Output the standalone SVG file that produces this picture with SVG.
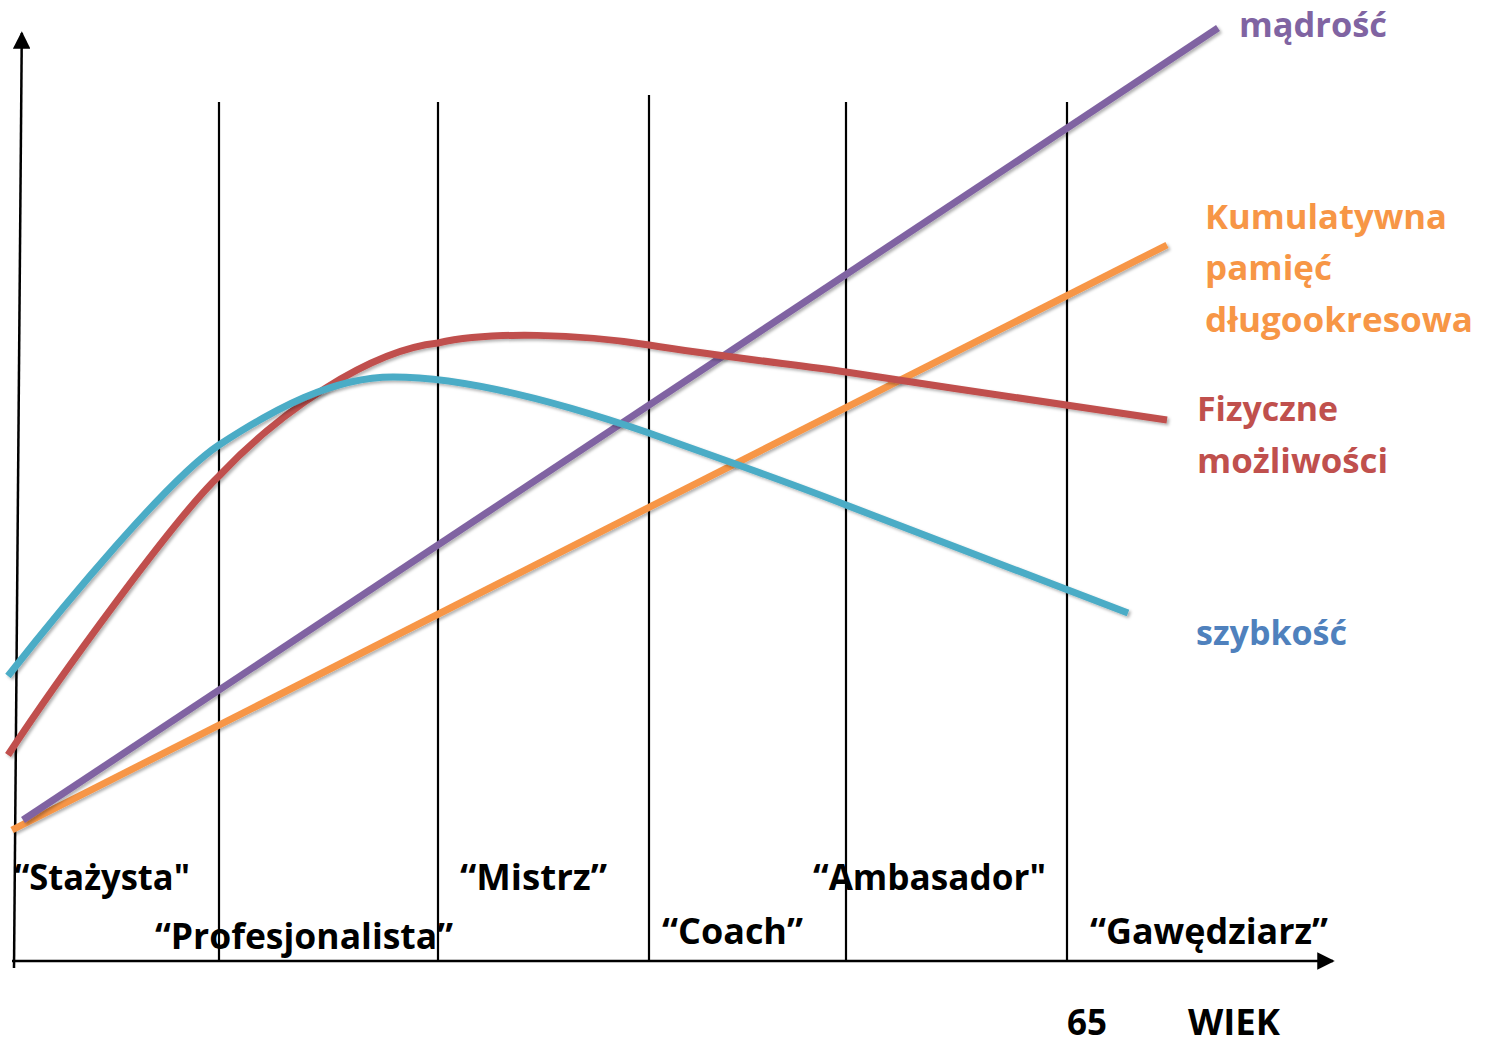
<svg xmlns="http://www.w3.org/2000/svg" width="1490" height="1045" viewBox="0 0 1490 1045">
<style>
.ax{stroke:#000;stroke-width:2.5;fill:none}
.vl{stroke:#000;stroke-width:2.2;fill:none}
.crv{fill:none;stroke-width:7;stroke-linecap:butt;filter:url(#sh)}
.lbl{font-family:"Open Sans","Noto Sans","DejaVu Sans",sans-serif;font-weight:bold;font-size:36px;fill:#000}
.cl{font-family:"Open Sans","Noto Sans","DejaVu Sans",sans-serif;font-weight:bold;font-size:34px}
</style>
<defs>
<filter id="sh" x="-5%" y="-5%" width="110%" height="110%">
<feDropShadow dx="2" dy="2" stdDeviation="1.5" flood-color="#000" flood-opacity="0.3"/>
</filter>
<marker id="ah" viewBox="0 0 10 10" refX="9" refY="5" markerWidth="7" markerHeight="7" markerUnits="strokeWidth" orient="auto">
<path d="M0,0 L10,5 L0,10 Z" fill="#000"/>
</marker>
</defs>
<rect width="1490" height="1045" fill="#fff"/>
<g id="axes">
<line class="ax" x1="14" y1="968" x2="21.8" y2="33" marker-end="url(#ah)"/>
<line class="ax" x1="12" y1="961" x2="1333" y2="961" marker-end="url(#ah)"/>
</g>
<g id="dividers">
<line class="vl" x1="219" y1="102" x2="219" y2="961"/>
<line class="vl" x1="438" y1="102" x2="438" y2="961"/>
<line class="vl" x1="649" y1="95" x2="649" y2="961"/>
<line class="vl" x1="846" y1="102" x2="846" y2="961"/>
<line class="vl" x1="1067" y1="102" x2="1067" y2="961"/>
</g>
<g id="connectors">
<path id="orange" class="crv" stroke="#F79646" d="M12,830 L1167,245"/>
<path id="purple" class="crv" stroke="#8064A2" d="M23,820 L1218,28"/>
<path id="red" class="crv" stroke="#C0504D" d="M8,755 C58,679 174,519 219,476 C279,412 370,350 438,343 C490,331 580,334 649,345 C715,355.5 780,363 846,372 C953,388 1060,405 1167,420"/>
<path id="cyan" class="crv" stroke="#4BACC6" d="M8,676 C63,606 169,478 219,445 C274,409 333,377 393,377 C473,377 579,409 649,433 C715,457 780,479 846,505 C940,541 1034,577 1128,613"/>
</g>
<g id="label-madrosc"><text class="cl" fill="#8064A2" x="1239" y="37" textLength="148" lengthAdjust="spacingAndGlyphs">mądrość</text></g>
<g id="label-pamiec">
<text class="cl" fill="#F79646" x="1205" y="229" textLength="242" lengthAdjust="spacingAndGlyphs">Kumulatywna</text>
<text class="cl" fill="#F79646" x="1205" y="280" textLength="127" lengthAdjust="spacingAndGlyphs">pamięć</text>
<text class="cl" fill="#F79646" x="1205" y="332" textLength="268" lengthAdjust="spacingAndGlyphs">długookresowa</text>
</g>
<g id="label-fizyczne">
<text class="cl" fill="#C0504D" x="1197" y="421" textLength="141" lengthAdjust="spacingAndGlyphs">Fizyczne</text>
<text class="cl" fill="#C0504D" x="1197" y="473" textLength="191" lengthAdjust="spacingAndGlyphs">możliwości</text>
</g>
<g id="label-szybkosc"><text class="cl" fill="#4F81BD" x="1196" y="645" textLength="151" lengthAdjust="spacingAndGlyphs">szybkość</text></g>
<g id="stage-stazysta"><text class="lbl" x="14" y="890" textLength="176" lengthAdjust="spacingAndGlyphs">“Stażysta"</text></g>
<g id="stage-profesjonalista"><text class="lbl" x="155" y="949" textLength="298" lengthAdjust="spacingAndGlyphs">“Profesjonalista”</text></g>
<g id="stage-mistrz"><text class="lbl" x="460" y="890" textLength="147" lengthAdjust="spacingAndGlyphs">“Mistrz”</text></g>
<g id="stage-coach"><text class="lbl" x="662" y="944" textLength="141" lengthAdjust="spacingAndGlyphs">“Coach”</text></g>
<g id="stage-ambasador"><text class="lbl" x="813" y="890" textLength="233" lengthAdjust="spacingAndGlyphs">“Ambasador"</text></g>
<g id="stage-gawedziarz"><text class="lbl" x="1090" y="944" textLength="238" lengthAdjust="spacingAndGlyphs">“Gawędziarz”</text></g>
<g id="tick-65"><text class="lbl" x="1067" y="1035" textLength="40" lengthAdjust="spacingAndGlyphs">65</text></g>
<g id="axis-wiek"><text class="lbl" x="1188" y="1035" textLength="92" lengthAdjust="spacingAndGlyphs">WIEK</text></g>
</svg>
